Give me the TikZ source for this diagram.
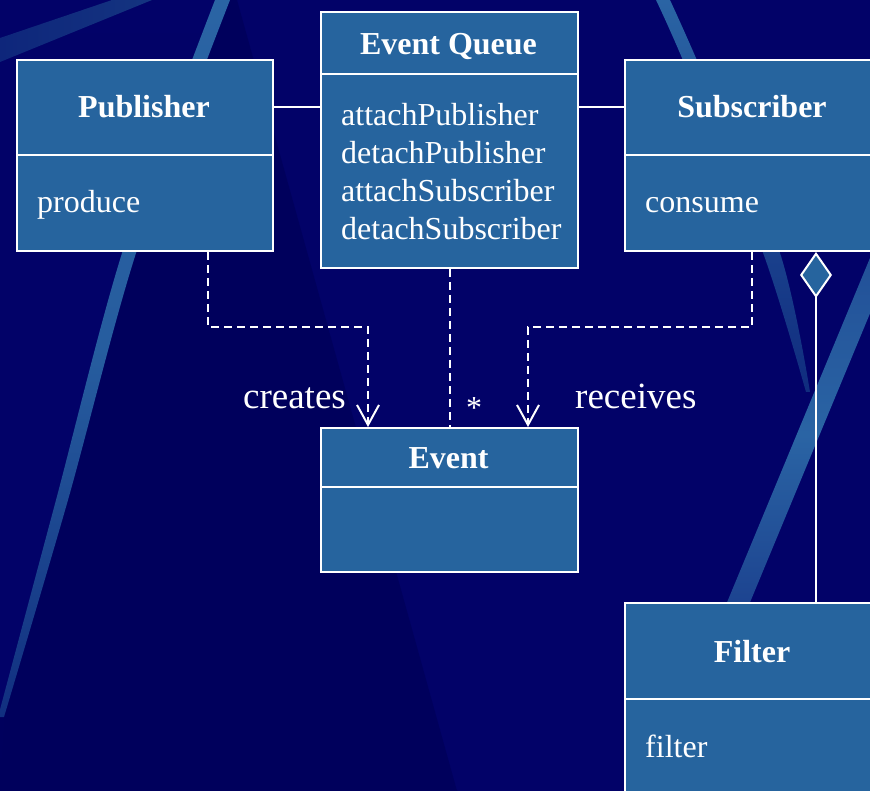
\documentclass[tikz,border=0pt]{standalone}
\usepackage{fontspec}
\setmainfont{Liberation Serif}
\usetikzlibrary{arrows.meta,calc}

\definecolor{navy}{RGB}{2,2,104}
\definecolor{navydark}{RGB}{0,0,92}
\definecolor{boxblue}{RGB}{38,100,158}
\definecolor{streakhi}{RGB}{42,100,164}
\definecolor{streaklo}{RGB}{22,62,136}
\definecolor{streakfaint}{RGB}{20,52,128}

\tikzset{
  classbox/.style={draw=white, fill=boxblue, line width=2pt, inner sep=0pt,
    anchor=north west},
  divider/.style={draw=white, line width=2pt},
  titletext/.style={text=white, inner sep=0pt, font=\bfseries\fontsize{32}{38}\selectfont},
  bodytext/.style={text=white, inner sep=0pt, font=\fontsize{32}{38}\selectfont},
  labeltext/.style={text=white, inner sep=0pt, font=\fontsize{37}{44}\selectfont},
  assoc/.style={draw=white, line width=2pt},
  dep/.style={draw=white, line width=2pt, dash pattern=on 8pt off 5pt,
    -{Straight Barb[length=20pt,width=22pt,line width=2pt]}},
  link/.style={draw=white, line width=2pt, dash pattern=on 8pt off 5pt},
  aggr/.style={draw=white, line width=2pt,
    -{Diamond[length=46pt,width=32pt,fill=boxblue,line width=2pt]}}
}

\begin{document}
\begin{tikzpicture}[x=1pt,y=-1pt]
\useasboundingbox (0,0) rectangle (870,791);
\clip (0,0) rectangle (870,791);

% ---- backdrop ----
\fill[navy] (0,0) rectangle (870,791);
% darker left side, fading in towards the bottom
\shade[top color=navy, bottom color=navydark]
  (0,0) -- (222,0) -- (0,717) -- (0,791) -- (457,791) -- cycle;
% darker wedge behind the long left streak
\fill[navydark] plot[smooth] coordinates {(222,0) (130,250) (62,500) (5,717)}
  -- (0,791) -- (457,791) -- (237,0) -- cycle;
\shade[left color=streaklo!60!navy, right color=streakfaint]
  (0,38) -- (112,0) -- (152,0) -- (0,62) -- cycle;
\shade[top color=streakhi, bottom color=streaklo!75!navy, middle color=streakhi!80!streaklo]
  plot[smooth] coordinates {(215,0) (123,250) (56,500) (-2,717)}
  -- plot[smooth] coordinates {(4,717) (68,500) (137,250) (230,0)} -- cycle;
\shade[top color=streakhi, bottom color=streaklo!70!navy]
  plot[smooth] coordinates {(656,0) (682,58) (762,250) (806,392)}
  -- plot[smooth] coordinates {(810,392) (779,250) (696,58) (670,0)} -- cycle;
\shade[top color=streakhi!80!navy, bottom color=streakhi!65!navy, middle color=streakhi]
  (870,258) -- (893,258) -- (746,612) -- (723,612) -- cycle;

% ---- classes ----
\node[classbox, minimum width=256pt, minimum height=191pt] (pub) at (16,59) {};
\draw[divider] (pub.west |- 0,155) -- (pub.east |- 0,155);
\node[titletext, anchor=base] (pubT) at (144,118) {Publisher};
\node[bodytext, anchor=base west] (pubOp) at (37,213) {produce};

\node[classbox, minimum width=257pt, minimum height=256pt] (queue) at (320,11) {};
\draw[divider] (queue.west |- 0,74) -- (queue.east |- 0,74);
\node[titletext, anchor=base] (queueT) at (448.5,54.5) {Event Queue};
\node[bodytext, anchor=base west] (q1) at (341,126) {attachPublisher};
\node[bodytext, anchor=base west] (q2) at (341,164) {detachPublisher};
\node[bodytext, anchor=base west] (q3) at (341,202) {attachSubscriber};
\node[bodytext, anchor=base west] (q4) at (341,240) {detachSubscriber};

\node[classbox, minimum width=256pt, minimum height=191pt] (sub) at (624,59) {};
\draw[divider] (sub.west |- 0,155) -- (sub.east |- 0,155);
\node[titletext, anchor=base] (subT) at (752,118) {Subscriber};
\node[bodytext, anchor=base west] (subOp) at (645,213) {consume};

\node[classbox, minimum width=257pt, minimum height=144pt] (ev) at (320,427) {};
\draw[divider] (ev.west |- 0,487) -- (ev.east |- 0,487);
\node[titletext, anchor=base] (evT) at (448.5,468) {Event};

\node[classbox, minimum width=256pt, minimum height=220pt] (filt) at (624,602) {};
\draw[divider] (filt.west |- 0,699) -- (filt.east |- 0,699);
\node[titletext, anchor=base] (filtT) at (752,662) {Filter};
\node[bodytext, anchor=base west] (filtOp) at (645,757) {filter};

% ---- connectors ----
\draw[assoc] (pub.east |- pubT) -- (queue.west |- pubT);
\draw[assoc] (queue.east |- subT) -- (sub.west |- subT);

\coordinate (pubOut) at ($(pub.south west)+(192,0)$);
\coordinate (subOut) at ($(sub.south west)+(128,0)$);
\coordinate (evInL) at ($(ev.north west)+(48,0)$);
\coordinate (evInR) at ($(ev.north west)+(208,0)$);
\coordinate (aggTop) at ($(sub.south west)+(192,0)$);
\coordinate (aggBot) at ($(filt.north west)+(192,0)$);

\draw[dep] (pubOut) -- ++(0,75) -| (evInL);
\draw[dep] (subOut) -- ++(0,75) -| (evInR);
\draw[link] (queue.south) -- (ev.north);
\draw[aggr] (aggBot) -- (aggTop);

% ---- labels ----
\node[labeltext, anchor=base east] (lblCreates) at (346,408) {creates};
\node[labeltext, anchor=base west] (lblReceives) at (575,408) {receives};
\node[bodytext, anchor=base] (lblMany) at (474,418) {*};
\end{tikzpicture}
\end{document}
